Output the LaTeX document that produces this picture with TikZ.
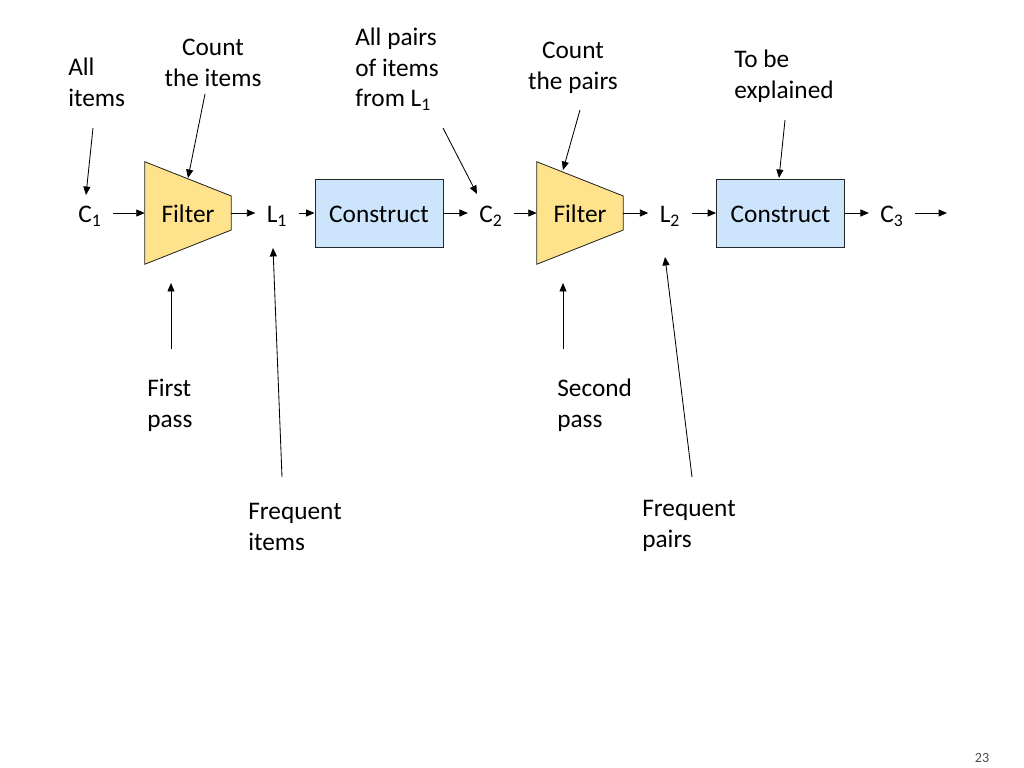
\documentclass[tikz,border=0pt]{standalone}
\usepackage{fontspec}
\setmainfont{Carlito}
\usetikzlibrary{arrows.meta, positioning, calc, backgrounds}

\definecolor{filteryellow}{HTML}{FFE38C}
\definecolor{constructblue}{HTML}{CCE4FC}

\tikzset{
  stage/.style={inner sep=0pt, text height=14pt, text depth=0pt},
  filt/.style={stage, minimum width=2.15cm, minimum height=2.55cm},
  constr/.style={stage, draw=black!85, fill=constructblue, line width=0.6pt,
    minimum width=3.2cm, minimum height=1.7cm},
  itemset/.style={stage, inner xsep=8pt},
  note/.style={inner sep=0pt, align=left, anchor=north west},
  flow/.style={->, line width=0.6pt},
}

\begin{document}
\begin{tikzpicture}[x=0.025cm, y=-0.025cm, >={Triangle[length=6pt, width=5pt]},
    font=\fontsize{18}{21.7}\selectfont]
  \useasboundingbox (0,0) rectangle (1024,768);

  % the chain
  \node[itemset] (c1) at (90,213) {C\textsubscript{1}};
  \node[filt] (f1) at (188,213) {Filter};
  \node[itemset] (l1) at (277,213) {L\textsubscript{1}};
  \node[constr] (k1) at (379,213) {Construct};
  \node[itemset] (c2) at (491,213) {C\textsubscript{2}};
  \node[filt] (f2) at (580,213) {Filter};
  \node[itemset] (l2) at (670,213) {L\textsubscript{2}};
  \node[constr] (k2) at (780.5,213) {Construct};
  \node[itemset] (c3) at (892,213) {C\textsubscript{3}};
  \coordinate (out) at (947,213);

  % filter shapes behind the text
  \begin{scope}[on background layer]
    \foreach \f in {f1, f2}
      \filldraw[fill=filteryellow, draw=black!85, line width=0.6pt]
        (\f.north west) -- ($(\f.east)+(0,-17)$) -- ($(\f.east)+(0,17)$)
        -- (\f.south west) -- cycle;
  \end{scope}

  \draw[flow] (c1) -- (f1);
  \draw[flow] (f1) -- (l1);
  \draw[flow] (l1) -- (k1);
  \draw[flow] (k1) -- (c2);
  \draw[flow] (c2) -- (f2);
  \draw[flow] (f2) -- (l2);
  \draw[flow] (l2) -- (k2);
  \draw[flow] (k2) -- (c3);
  \draw[flow] (c3) -- (out);

  % notes above
  \node[note] (allitems) at (68,58) {All\\items};
  \node[note, align=center, anchor=north] (countitems) at (213,39) {Count\\the items};
  \node[note] (allpairs) at (355,28) {All pairs\\of items\\from L\textsubscript{1}};
  \node[note, align=center, anchor=north] (countpairs) at (573,42) {Count\\the pairs};
  \node[note] (tobe) at (734,50) {To be\\explained};

  \coordinate (ai-a) at (93,128);  \coordinate (ai-b) at (86,195);
  \coordinate (ci-a) at (205,94);  \coordinate (ci-b) at (188,178);
  \coordinate (ap-a) at (443,128); \coordinate (ap-b) at (477,194);
  \coordinate (cp-a) at (580,110); \coordinate (cp-b) at (563,170);
  \coordinate (tb-a) at (785,120); \coordinate (tb-b) at (779,178);
  \draw[flow] (ai-a) -- (ai-b);
  \draw[flow] (ci-a) -- (ci-b);
  \draw[flow] (ap-a) -- (ap-b);
  \draw[flow] (cp-a) -- (cp-b);
  \draw[flow] (tb-a) -- (tb-b);

  % notes below
  \node[note] (first) at (147,379) {First\\pass};
  \node[note] (freqitems) at (248,503) {Frequent\\items};
  \node[note] (second) at (557,379) {Second\\pass};
  \node[note] (freqpairs) at (642,500) {Frequent\\pairs};

  \coordinate (fp-a) at (171,349); \coordinate (fp-b) at (171,283);
  \coordinate (fi-a) at (282,477); \coordinate (fi-b) at (273,248);
  \coordinate (sp-a) at (563,349); \coordinate (sp-b) at (563,283);
  \coordinate (fq-a) at (692,477); \coordinate (fq-b) at (665,257);
  \draw[flow] (fp-a) -- (fp-b);
  \draw[flow] (fi-a) -- (fi-b);
  \draw[flow] (sp-a) -- (sp-b);
  \draw[flow] (fq-a) -- (fq-b);

  \node[font=\fontsize{10}{12}\selectfont, text=black!70] (page) at (982,758) {23};
\end{tikzpicture}
\end{document}
